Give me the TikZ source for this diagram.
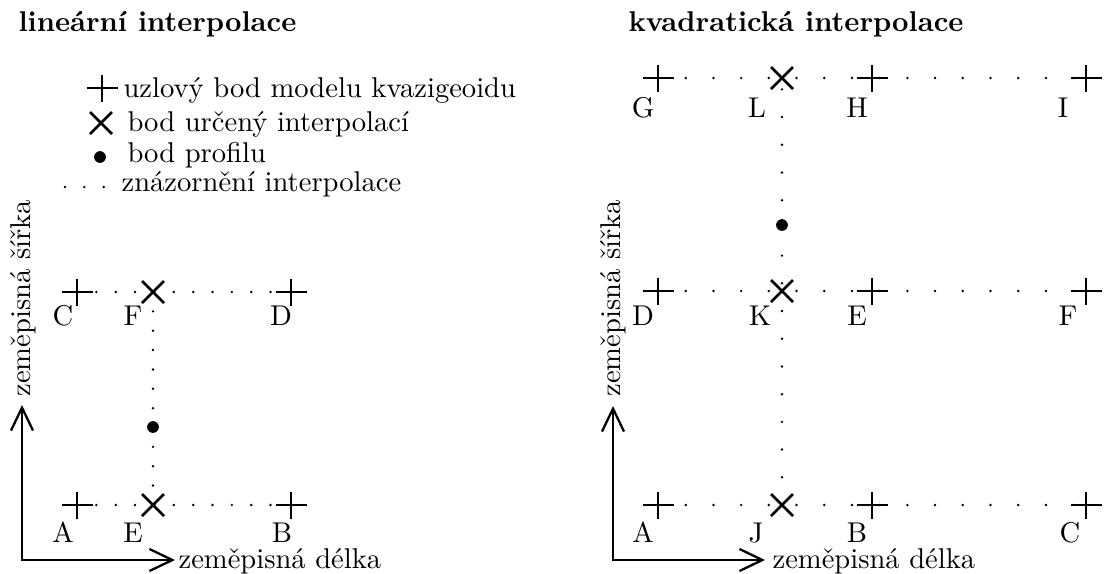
\documentclass[tikz,border=0pt]{standalone}
\usepackage{fontspec}
\usetikzlibrary{arrows.meta}
\tikzset{
  markline/.style={line width=0.9pt},
  axisline/.style={line width=0.8pt, line join=miter,
    arrows={Straight Barb[length=8pt,width=7.7pt]-Straight Barb[length=8pt,width=7.7pt]}},
  dotsL/.style={line width=0.95pt, line cap=round, dash pattern=on 0pt off 6.77pt},
  dotsR/.style={line width=0.95pt, line cap=round, dash pattern=on 0pt off 9.69pt},
  ptlabel/.style={inner sep=0pt, anchor=base},
  txt/.style={inner sep=0pt, anchor=base west},
  bigdot/.style={circle, fill=black, draw=none, inner sep=0pt, minimum size=4.1pt},
  plusmark/.pic={\draw[markline] (-15.5,0) -- (15.5,0) (0,-13.5) -- (0,13.5);},
  crossmark/.pic={\draw[markline] (-11,-11) -- (11,11) (-11,11) -- (11,-11);},
}
\begin{document}
\begin{tikzpicture}[x=0.3497pt,y=-0.3497pt]
\path[use as bounding box] (0,0) rectangle (1105,574);

% ---------- titles ----------
\node[txt] (t1) at (18,31) {\bfseries lineární interpolace};
\node[txt] (t2) at (628,31) {\bfseries kvadratická interpolace};

% ---------- legend ----------
\coordinate (legP) at (102,88);
\coordinate (legX) at (101,123);
\coordinate (legS) at (65,187);
\coordinate (legE) at (104,187);
\pic at (legP) {plusmark};
\pic at (legX) {crossmark};
\node[bigdot] (legD) at (100,157) {};
\draw[dotsL] (legS) -- (legE);
\node[txt] (leg1) at (123,97) {uzlový bod modelu kvazigeoidu};
\node[txt] (leg2) at (127,131) {bod určený interpolací};
\node[txt] (leg3) at (127,162) {bod profilu};
\node[txt] (leg4) at (121,191) {znázornění interpolace};

% ---------- left diagram ----------
\coordinate (lA) at (77,505);
\coordinate (lE) at (153,505);
\coordinate (lB) at (291,505);
\coordinate (lC) at (77,292);
\coordinate (lF) at (153,292);
\coordinate (lD) at (291,292);
\draw[dotsL] (lC) -- (lD);
\draw[dotsL] (lA) -- (lB);
\draw[dotsL] (lF) -- (lE);
\node[bigdot] (lP) at (153,427) {};
\foreach \p in {lA,lB,lC,lD} \pic at (\p) {plusmark};
\foreach \p in {lE,lF} \pic at (\p) {crossmark};
\node[ptlabel] (llA) at (63,542) {A};
\node[ptlabel] (llE) at (133,542) {E};
\node[ptlabel] (llB) at (282,542) {B};
\node[ptlabel] (llC) at (63,325) {C};
\node[ptlabel] (llF) at (133,325) {F};
\node[ptlabel] (llD) at (281,325) {D};
% axes
\coordinate (lO) at (22,560);
\coordinate (lX) at (175,560);
\coordinate (lY) at (22,405);
\draw[axisline] (lY) -- (lO) -- (lX);
\node[txt] (lxl) at (178,568) {zeměpisná délka};
\node[txt, rotate=90] (lyl) at (30,397) {zeměpisná šířka};

% ---------- right diagram ----------
\coordinate (rG) at (658,78);
\coordinate (rL) at (782,78);
\coordinate (rH) at (872,78);
\coordinate (rI) at (1086,78);
\coordinate (rD) at (658,291);
\coordinate (rK) at (782,291);
\coordinate (rE) at (872,291);
\coordinate (rF) at (1086,291);
\coordinate (rA) at (658,505);
\coordinate (rJ) at (782,505);
\coordinate (rB) at (872,505);
\coordinate (rC) at (1086,505);
\draw[dotsR] (rG) -- (rI);
\draw[dotsR] (rD) -- (rF);
\draw[dotsR] (rA) -- (rC);
\draw[dotsR] (rJ) -- (rL);
\node[bigdot] (rP) at (782,225) {};
\foreach \p in {rG,rH,rI,rD,rE,rF,rA,rB,rC} \pic at (\p) {plusmark};
\foreach \p in {rL,rK,rJ} \pic at (\p) {crossmark};
\node[ptlabel] (rlG) at (643,117) {G};
\node[ptlabel] (rlL) at (757,117) {L};
\node[ptlabel] (rlH) at (857,117) {H};
\node[ptlabel] (rlI) at (1063,117) {I};
\node[ptlabel] (rlD) at (643,325) {D};
\node[ptlabel] (rlK) at (760,325) {K};
\node[ptlabel] (rlE) at (857,325) {E};
\node[ptlabel] (rlF) at (1068,325) {F};
\node[ptlabel] (rlA) at (643,542) {A};
\node[ptlabel] (rlJ) at (756,542) {J};
\node[ptlabel] (rlB) at (857,542) {B};
\node[ptlabel] (rlC) at (1070,542) {C};
% axes
\coordinate (rO) at (613,560);
\coordinate (rX) at (765,560);
\coordinate (rY) at (613,406);
\draw[axisline] (rY) -- (rO) -- (rX);
\node[txt] (rxl) at (772,568) {zeměpisná délka};
\node[txt, rotate=90] (ryl) at (620,397) {zeměpisná šířka};
\end{tikzpicture}
\end{document}
